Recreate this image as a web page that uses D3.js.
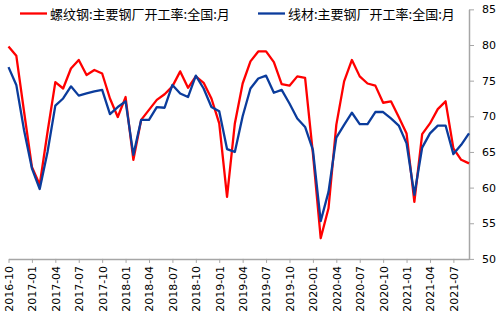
<!DOCTYPE html>
<html><head><meta charset="utf-8">
<script src="https://cdn.jsdelivr.net/npm/d3@7"></script>
<style>html,body{margin:0;padding:0;background:#fff;}svg{display:block;}</style>
</head><body>
<svg id="c" width="499" height="322"></svg>
<script>
const months = ["2016-10","2016-11","2016-12",
"2017-01","2017-02","2017-03","2017-04","2017-05","2017-06","2017-07","2017-08","2017-09","2017-10","2017-11","2017-12",
"2018-01","2018-02","2018-03","2018-04","2018-05","2018-06","2018-07","2018-08","2018-09","2018-10","2018-11","2018-12",
"2019-01","2019-02","2019-03","2019-04","2019-05","2019-06","2019-07","2019-08","2019-09","2019-10","2019-11","2019-12",
"2020-01","2020-02","2020-03","2020-04","2020-05","2020-06","2020-07","2020-08","2020-09","2020-10","2020-11","2020-12",
"2021-01","2021-02","2021-03","2021-04","2021-05","2021-06","2021-07","2021-08","2021-09"];
const rebar = [79.8,78.5,70.6,62.9,60.4,67.8,74.8,73.9,76.7,77.9,75.8,76.5,76.0,72.5,69.9,72.7,63.9,69.5,70.9,72.3,
73.1,74.2,76.3,74.0,75.6,74.7,72.5,69.0,58.7,69.0,74.6,77.7,79.1,79.1,77.6,74.5,74.3,75.6,75.4,64.8,
52.9,57.1,68.8,74.9,77.9,75.6,74.6,74.3,71.9,72.1,69.9,67.6,58.0,67.5,69.0,71.0,72.1,65.5,63.9,63.4];
const wire = [76.9,74.4,68.0,62.7,59.8,65.0,71.5,72.5,74.2,72.9,73.2,73.5,73.7,70.3,71.3,72.1,64.6,69.5,69.5,71.3,
71.2,74.4,73.2,72.7,75.7,73.9,71.3,70.7,65.4,65.0,70.0,73.9,75.3,75.7,73.3,73.7,71.8,69.7,68.5,65.3,
55.3,59.4,67.0,68.8,70.5,68.9,68.9,70.6,70.6,69.7,68.7,66.2,59.0,65.6,67.6,68.7,68.7,64.7,66.0,67.6];
const seriesNames = ["螺纹钢:主要钢厂开工率:全国:月","线材:主要钢厂开工率:全国:月"];
const yTicks = [50,55,60,65,70,75,80,85];
const xTickLabels = months.filter((m,i)=>i%3===0);

const svg = d3.select("#c");
const x = d3.scalePoint().domain(months).range([8.5,469]);
const y = d3.scaleLinear().domain([50,85]).range([258.9,9.35]);
const axisColor = "#A6A6A6";

// x axis
const xg = svg.append("g").attr("transform","translate(0,258.9)")
  .call(d3.axisBottom(x).tickValues(xTickLabels).tickSize(4).tickSizeOuter(0).tickPadding(3));
xg.select(".domain").attr("stroke",axisColor).attr("stroke-width",1.5);
xg.selectAll(".tick line").attr("stroke",axisColor);
xg.selectAll(".tick text")
  .attr("transform","rotate(-90)").attr("text-anchor","end")
  .attr("x",-7).attr("y",0).attr("dy","0.35em")
  .attr("font-family","DejaVu Sans").attr("font-size",11).attr("fill","#000");

// y axis
const yg = svg.append("g").attr("transform","translate(469,0)")
  .call(d3.axisRight(y).tickValues(yTicks).tickSize(5).tickSizeOuter(0).tickPadding(8));
yg.select(".domain").attr("stroke",axisColor).attr("stroke-width",1.5);
yg.selectAll(".tick line").attr("stroke",axisColor);
yg.selectAll(".tick text").attr("font-family","DejaVu Sans").attr("font-size",11).attr("fill","#000");

const line = d3.line().x((d,i)=>x(months[i])).y(d=>y(d));
svg.append("path").datum(rebar).attr("d",line).attr("fill","none")
  .attr("stroke","#FF0000").attr("stroke-width",2.3).attr("stroke-linejoin","round");
svg.append("path").datum(wire).attr("d",line).attr("fill","none")
  .attr("stroke","#0B3C9C").attr("stroke-width",2.3).attr("stroke-linejoin","round");

// legend
const leg = [{name:seriesNames[0],color:"#FF0000",x:20},{name:seriesNames[1],color:"#0B3C9C",x:258}];
leg.forEach(l=>{
  svg.append("line").attr("x1",l.x).attr("x2",l.x+27).attr("y1",13.5).attr("y2",13.5)
    .attr("stroke",l.color).attr("stroke-width",2.3);
  svg.append("text").attr("x",l.x+30).attr("y",14).attr("dy","0.35em")
    .attr("font-family","Noto Sans CJK SC").attr("font-size",13).attr("fill","#000").text(l.name);
});
</script>
</body></html>
